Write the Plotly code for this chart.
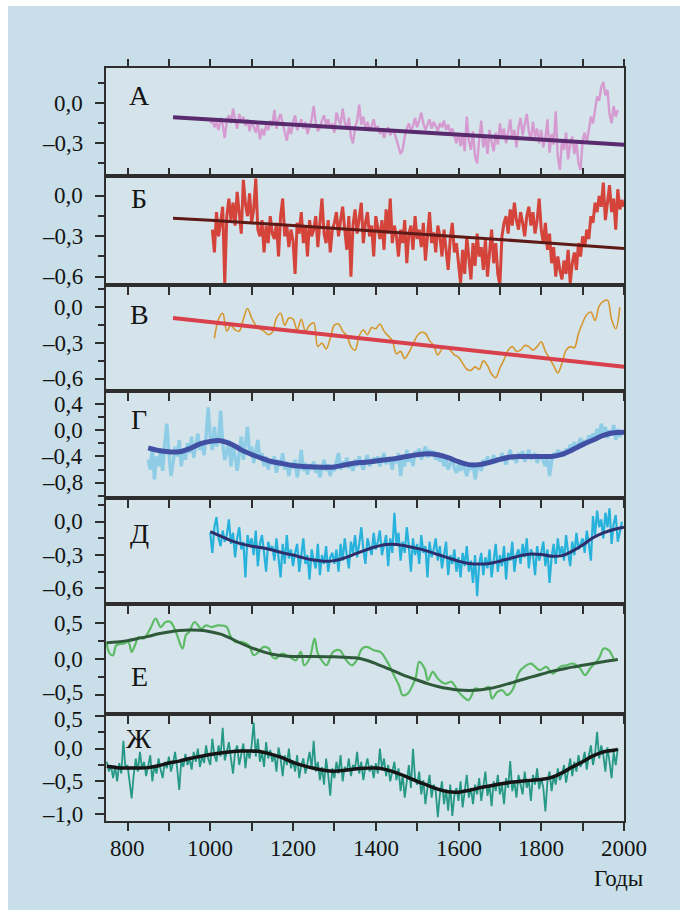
import plotly.graph_objects as go

# ---------------- data ----------------
# Panel А (pink series + linear trend)
A_START = 1000
A_VALS = [-0.15,-0.12,-0.18,-0.14,-0.20,-0.11,-0.16,-0.26,-0.13,-0.09,
          -0.15,-0.04,-0.12,-0.19,-0.08,-0.14,-0.10,-0.17,-0.12,-0.21,
          -0.13,-0.18,-0.22,-0.15,-0.27,-0.19,-0.24,-0.16,-0.20,-0.13,
          -0.17,-0.05,-0.19,-0.12,-0.08,-0.15,-0.21,-0.28,-0.18,-0.23,
          -0.14,-0.09,-0.20,-0.16,-0.12,-0.19,-0.14,-0.23,-0.17,-0.12,
          -0.02,-0.15,-0.21,-0.18,-0.13,-0.09,-0.16,-0.12,-0.19,-0.15,
          -0.22,-0.07,-0.12,-0.16,-0.04,-0.14,-0.19,-0.11,-0.25,-0.30,
          -0.18,-0.13,-0.01,-0.16,-0.10,-0.19,-0.14,-0.21,-0.17,-0.12,
          -0.20,-0.17,-0.23,-0.19,-0.26,-0.21,-0.18,-0.24,-0.20,-0.22,
          -0.27,-0.33,-0.38,-0.35,-0.25,-0.19,-0.15,-0.21,-0.17,-0.11,
          -0.18,-0.13,-0.07,-0.15,-0.20,-0.16,-0.12,-0.19,-0.14,-0.17,
          -0.21,-0.15,-0.18,-0.13,-0.20,-0.16,-0.22,-0.19,-0.25,-0.30,
          -0.22,-0.32,-0.24,-0.36,-0.10,-0.28,-0.35,-0.21,-0.40,-0.45,
          -0.27,-0.13,-0.33,-0.24,-0.38,-0.20,-0.29,-0.36,-0.22,-0.31,
          -0.15,-0.25,-0.19,-0.30,-0.22,-0.12,-0.27,-0.20,-0.33,-0.18,
          -0.11,-0.24,-0.16,-0.08,-0.21,-0.28,-0.14,-0.25,-0.19,-0.30,
          -0.20,-0.33,-0.26,-0.12,-0.37,-0.23,-0.31,-0.06,-0.40,-0.50,
          -0.28,-0.35,-0.22,-0.42,-0.30,-0.25,-0.38,-0.29,-0.45,-0.50,
          -0.28,-0.22,-0.30,-0.18,-0.10,-0.15,-0.03,0.05,0.02,0.12,
          0.16,0.06,0.10,-0.08,-0.15,-0.02,-0.10,-0.05]
A_TREND_YEARS = [910, 2000]
A_TREND = [-0.105, -0.31]

# Panel Б (red series + trend)
B_START = 1005
B_VALS = [-0.25,-0.42,-0.12,-0.30,-0.20,-0.08,-0.65,-0.15,-0.02,-0.18,
          -0.05,-0.22,0.03,-0.12,-0.28,0.12,-0.06,-0.15,0.02,-0.20,
          -0.10,0.13,-0.25,-0.30,-0.18,-0.42,-0.22,-0.35,-0.15,-0.28,
          -0.32,-0.20,-0.45,-0.15,-0.02,-0.30,-0.22,-0.38,-0.25,-0.33,
          -0.58,-0.20,-0.28,-0.12,-0.35,-0.22,-0.45,-0.18,-0.30,-0.25,
          -0.15,-0.38,-0.22,-0.02,-0.28,-0.35,-0.18,-0.42,-0.25,-0.20,
          -0.12,-0.30,-0.18,-0.08,-0.25,-0.40,-0.15,-0.60,-0.22,-0.10,
          -0.28,-0.18,-0.05,-0.35,-0.20,-0.12,-0.30,-0.22,-0.45,-0.15,
          -0.25,-0.32,-0.18,-0.40,-0.10,-0.28,-0.02,-0.35,-0.22,-0.30,
          -0.45,-0.25,-0.35,-0.18,-0.50,-0.28,-0.22,-0.40,-0.15,-0.32,
          -0.25,-0.38,-0.20,-0.48,-0.30,-0.12,-0.35,-0.27,-0.42,-0.22,
          -0.30,-0.45,-0.25,-0.38,-0.55,-0.32,-0.20,-0.42,-0.35,-0.50,
          -0.65,-0.40,-0.58,-0.30,-0.48,-0.62,-0.35,-0.52,-0.28,-0.45,
          -0.38,-0.55,-0.32,-0.60,-0.42,-0.25,-0.50,-0.35,-0.58,-0.66,
          -0.30,-0.20,-0.15,-0.28,-0.10,-0.22,-0.05,-0.18,-0.25,-0.12,
          -0.20,-0.30,-0.15,-0.08,-0.22,-0.12,-0.28,-0.18,-0.02,-0.25,
          -0.35,-0.20,-0.40,-0.28,-0.50,-0.38,-0.60,-0.45,-0.55,-0.62,
          -0.48,-0.58,-0.40,-0.65,-0.50,-0.42,-0.55,-0.35,-0.45,-0.30,
          -0.38,-0.25,-0.32,-0.15,-0.20,-0.05,-0.12,0.00,-0.08,0.10,
          -0.18,-0.05,0.08,-0.12,-0.02,-0.25,0.05,-0.10,-0.03,-0.08]
B_TREND_YEARS = [910, 1000, 1200, 1400, 1600, 1800, 2000]
B_TREND = [-0.165, -0.18, -0.22, -0.26, -0.30, -0.345, -0.39]

# Panel В (orange series + trend)
V_START = 1010
V_VALS = [-0.26,-0.10,-0.05,-0.20,-0.15,-0.19,-0.20,-0.10,-0.01,-0.09,
          -0.15,-0.18,-0.20,-0.23,-0.21,-0.09,-0.05,-0.15,-0.09,-0.10,
          -0.19,-0.10,-0.20,-0.15,-0.13,-0.33,-0.30,-0.35,-0.26,-0.15,
          -0.14,-0.20,-0.24,-0.33,-0.36,-0.24,-0.19,-0.23,-0.17,-0.18,
          -0.14,-0.20,-0.24,-0.28,-0.39,-0.37,-0.43,-0.38,-0.31,-0.24,
          -0.21,-0.22,-0.28,-0.32,-0.40,-0.35,-0.33,-0.36,-0.40,-0.42,
          -0.47,-0.52,-0.53,-0.50,-0.52,-0.45,-0.49,-0.56,-0.59,-0.51,
          -0.44,-0.36,-0.33,-0.37,-0.36,-0.32,-0.33,-0.36,-0.33,-0.29,
          -0.37,-0.43,-0.49,-0.55,-0.47,-0.36,-0.33,-0.34,-0.22,-0.13,
          -0.06,-0.04,-0.11,0.01,0.05,0.06,-0.10,-0.18,0.00]
V_TREND_YEARS = [910, 2000]
V_TREND = [-0.09, -0.50]

# Panel Г (light-blue series + smooth curve)
G_START = 850
G_VALS = [-0.45,-0.60,-0.25,-0.75,-0.40,-0.55,-0.30,-0.62,-0.20,0.10,
          -0.35,-0.70,-0.50,-0.25,-0.40,-0.15,-0.55,-0.30,-0.45,-0.20,
          -0.35,-0.10,-0.42,-0.25,-0.05,-0.30,-0.18,-0.38,-0.08,0.35,
          -0.10,-0.30,0.05,-0.25,-0.15,0.30,-0.20,-0.45,-0.35,-0.15,
          -0.55,-0.25,-0.40,-0.62,-0.30,-0.10,-0.45,-0.20,0.05,-0.35,
          -0.25,-0.50,-0.30,-0.15,-0.45,-0.35,-0.55,-0.40,-0.60,-0.45,
          -0.52,-0.40,-0.65,-0.45,-0.55,-0.35,-0.60,-0.48,-0.70,-0.50,
          -0.58,-0.45,-0.72,-0.55,-0.30,-0.62,-0.50,-0.68,-0.52,-0.60,
          -0.48,-0.65,-0.55,-0.72,-0.58,-0.45,-0.62,-0.52,-0.70,-0.55,
          -0.62,-0.50,-0.35,-0.60,-0.48,-0.55,-0.42,-0.58,-0.50,-0.62,
          -0.45,-0.55,-0.40,-0.52,-0.60,-0.45,-0.38,-0.55,-0.48,-0.42,
          -0.50,-0.40,-0.55,-0.45,-0.35,-0.52,-0.42,-0.48,-0.60,-0.40,
          -0.50,-0.35,-0.70,-0.45,-0.55,-0.30,-0.48,-0.38,-0.55,-0.32,
          -0.40,-0.28,-0.45,-0.35,-0.25,-0.42,-0.30,-0.38,-0.32,-0.45,
          -0.35,-0.48,-0.40,-0.55,-0.45,-0.60,-0.50,-0.42,-0.58,-0.65,
          -0.52,-0.62,-0.48,-0.58,-0.70,-0.55,-0.60,-0.50,-0.75,-0.58,
          -0.50,-0.62,-0.45,-0.55,-0.40,-0.52,-0.48,-0.38,-0.50,-0.42,
          -0.48,-0.35,-0.45,-0.52,-0.40,-0.30,-0.45,-0.38,-0.50,-0.35,
          -0.42,-0.32,-0.48,-0.38,-0.30,-0.45,-0.40,-0.35,-0.50,-0.42,
          -0.38,-0.45,-0.55,-0.40,-0.70,-0.48,-0.35,-0.42,-0.30,-0.38,
          -0.32,-0.40,-0.28,-0.35,-0.22,-0.30,-0.18,-0.28,-0.20,-0.12,
          -0.25,-0.15,-0.20,-0.08,-0.18,-0.05,-0.12,0.02,-0.10,0.10,
          -0.05,0.05,-0.12,0.00,-0.08,0.08,-0.15,0.02,-0.10,-0.02]
G_SMOOTH_YEARS = [850,875,900,925,950,975,1000,1025,1050,1075,1100,1125,1150,1175,1200,
                  1225,1250,1275,1300,1325,1350,1375,1400,1425,1450,1475,1500,1525,1550,
                  1575,1600,1625,1650,1675,1700,1725,1750,1775,1800,1825,1850,1875,1900,
                  1925,1950,1975,2000]
G_SMOOTH = [-0.27,-0.31,-0.33,-0.33,-0.28,-0.21,-0.17,-0.16,-0.21,-0.30,-0.37,-0.43,-0.48,-0.51,-0.54,
            -0.555,-0.56,-0.565,-0.56,-0.53,-0.50,-0.49,-0.47,-0.45,-0.43,-0.40,-0.375,-0.36,-0.375,
            -0.42,-0.48,-0.525,-0.525,-0.49,-0.445,-0.41,-0.40,-0.40,-0.40,-0.40,-0.37,-0.30,-0.22,
            -0.15,-0.08,-0.04,-0.03]

# Panel Д (cyan series + smooth curve)
D_START = 1000
D_VALS = [-0.10,-0.28,-0.05,0.04,-0.15,-0.22,-0.08,-0.18,-0.12,0.02,
          -0.20,-0.10,-0.32,-0.15,-0.05,-0.25,-0.18,-0.50,-0.12,-0.22,
          -0.15,-0.30,-0.08,-0.40,-0.20,-0.12,-0.28,-0.45,-0.18,-0.25,
          -0.22,-0.35,-0.15,-0.30,-0.50,-0.20,-0.38,-0.12,-0.33,-0.25,
          -0.40,-0.28,-0.20,-0.45,-0.32,-0.15,-0.38,-0.30,-0.52,-0.25,
          -0.35,-0.42,-0.20,-0.48,-0.30,-0.38,-0.22,-0.45,-0.32,-0.28,
          -0.38,-0.25,-0.45,-0.20,-0.35,-0.15,-0.30,-0.42,-0.18,-0.28,
          -0.12,-0.32,-0.20,-0.05,-0.25,-0.38,-0.15,-0.22,-0.30,-0.10,
          -0.25,-0.18,-0.08,-0.30,-0.20,-0.12,-0.40,-0.15,-0.28,0.08,
          -0.20,-0.10,-0.35,-0.18,-0.28,-0.05,-0.22,-0.45,-0.15,-0.30,
          -0.20,-0.38,-0.12,-0.28,-0.22,-0.50,-0.18,-0.32,-0.25,-0.15,
          -0.35,-0.22,-0.42,-0.28,-0.18,-0.48,-0.30,-0.38,-0.25,-0.45,
          -0.32,-0.50,-0.28,-0.40,-0.22,-0.45,-0.35,-0.55,-0.30,-0.67,
          -0.38,-0.28,-0.48,-0.32,-0.42,-0.25,-0.50,-0.35,-0.20,-0.45,
          -0.30,-0.40,-0.22,-0.52,-0.28,-0.35,-0.18,-0.45,-0.30,-0.25,
          -0.38,-0.20,-0.32,-0.15,-0.42,-0.25,-0.30,-0.48,-0.22,-0.35,
          -0.28,-0.18,-0.40,-0.25,-0.55,-0.32,-0.20,-0.38,-0.15,-0.30,
          -0.22,-0.35,-0.12,-0.28,-0.40,-0.18,-0.30,-0.10,-0.25,-0.20,
          -0.15,-0.28,-0.08,-0.20,-0.35,0.05,-0.12,0.10,-0.05,0.02,
          -0.15,0.08,-0.05,0.12,-0.20,-0.02,0.06,-0.18,-0.08,0.00]
D_SMOOTH_YEARS = [1000,1025,1050,1075,1100,1125,1150,1175,1200,1225,1250,1275,1300,1325,1350,
                  1375,1400,1425,1450,1475,1500,1525,1550,1575,1600,1625,1650,1675,1700,1725,
                  1750,1775,1800,1825,1850,1875,1900,1925,1950,1975,2000]
D_SMOOTH = [-0.09,-0.13,-0.17,-0.20,-0.22,-0.235,-0.255,-0.28,-0.30,-0.325,-0.345,-0.355,-0.35,-0.325,-0.29,
            -0.255,-0.225,-0.205,-0.205,-0.22,-0.24,-0.265,-0.295,-0.325,-0.355,-0.375,-0.38,-0.375,-0.355,-0.33,
            -0.305,-0.29,-0.295,-0.31,-0.305,-0.265,-0.21,-0.145,-0.10,-0.07,-0.05]

# Panel Е (green series + smooth curve)
E_YEARS = [749,757,765,773,790,802,810,818,827,839,
           855,868,880,892,904,917,933,941,949,962,
           978,990,1003,1019,1040,1048,1060,1076,1093,1105,
           1117,1129,1142,1150,1158,1174,1191,1207,1219,1227,
           1240,1252,1260,1272,1281,1297,1313,1326,1342,1354,
           1367,1379,1395,1411,1428,1444,1456,1465,1477,1489,
           1497,1505,1518,1526,1538,1550,1567,1583,1600,1612,
           1624,1632,1640,1657,1673,1681,1694,1706,1718,1730,
           1747,1759,1775,1796,1812,1828,1845,1861,1877,1894,
           1906,1918,1939,1951,1963,1971,1975]
E_VALS = [0.242,0.079,0.056,0.195,0.219,0.242,0.102,0.195,0.31,0.288,
          0.428,0.567,0.45,0.52,0.52,0.381,0.149,0.335,0.381,0.52,
          0.428,0.474,0.45,0.474,0.45,0.335,0.242,0.242,0.195,0.056,
          0.102,0.172,0.149,0.033,0.009,0.079,0.033,-0.014,0.102,-0.084,
          0.009,0.288,0.079,-0.037,-0.084,0.102,0.126,0.009,-0.084,-0.014,
          0.149,0.172,0.126,0.102,-0.037,-0.223,-0.363,-0.502,-0.479,-0.363,
          -0.247,-0.037,-0.13,-0.293,-0.177,-0.27,-0.34,-0.316,-0.456,-0.526,
          -0.572,-0.502,-0.409,-0.433,-0.386,-0.549,-0.456,-0.433,-0.502,-0.433,
          -0.177,-0.107,-0.06,-0.153,-0.107,-0.2,-0.107,-0.084,-0.06,-0.13,
          -0.223,-0.13,0.009,0.149,0.126,0.056,0.009]
E_SMOOTH_YEARS = [750,775,800,825,850,875,900,925,950,975,1000,1025,1050,1075,1100,1125,1150,1175,
                  1200,1250,1300,1350,1375,1400,1425,1450,1475,1500,1525,1550,1575,1600,1625,1650,
                  1675,1700,1725,1750,1775,1800,1825,1850,1875,1900,1925,1950,1985]
E_SMOOTH = [0.23,0.24,0.26,0.29,0.32,0.355,0.38,0.40,0.41,0.405,0.385,0.35,0.29,0.22,0.16,0.11,0.07,0.05,
            0.04,0.04,0.035,0.02,-0.01,-0.06,-0.12,-0.18,-0.24,-0.29,-0.34,-0.38,-0.41,-0.43,-0.435,-0.43,
            -0.41,-0.375,-0.335,-0.29,-0.25,-0.21,-0.17,-0.14,-0.11,-0.085,-0.06,-0.035,-0.005]

# Panel Ж (teal series + smooth curve)
Z_START = 750
Z_VALS = [-0.20,-0.35,-0.25,-0.45,-0.28,-0.50,-0.22,-0.38,0.12,-0.30,
          -0.25,-0.55,-0.76,-0.40,-0.15,-0.35,-0.05,-0.30,-0.20,-0.42,
          -0.28,-0.10,-0.50,-0.25,-0.38,-0.15,-0.32,-0.45,-0.20,-0.30,
          -0.12,-0.35,-0.22,-0.05,-0.30,-0.63,-0.18,-0.28,-0.08,-0.25,
          -0.15,-0.32,-0.05,-0.20,0.00,-0.28,-0.12,-0.22,0.05,-0.15,
          -0.25,0.15,-0.10,-0.20,0.05,-0.12,0.32,-0.18,-0.05,0.10,
          -0.15,-0.38,-0.05,0.05,-0.25,-0.10,0.08,-0.30,-0.02,-0.15,
          0.05,0.40,-0.12,0.15,-0.20,-0.05,-0.28,0.10,-0.15,-0.02,
          -0.20,-0.08,-0.35,0.02,-0.15,-0.42,-0.10,-0.25,0.00,-0.30,
          -0.18,-0.35,-0.10,-0.45,-0.25,-0.15,-0.38,-0.22,-0.05,-0.30,
          0.12,-0.35,-0.20,-0.48,-0.28,-0.55,-0.15,-0.40,-0.72,-0.30,
          -0.45,-0.20,-0.38,-0.10,-0.50,-0.28,-0.35,-0.15,-0.42,-0.25,
          -0.30,-0.05,-0.38,-0.20,-0.48,-0.28,-0.15,-0.35,-0.25,-0.45,
          -0.22,-0.38,0.00,-0.30,-0.15,-0.42,-0.25,-0.50,-0.35,-0.20,
          -0.48,-0.30,-0.65,-0.40,-0.75,-0.50,-0.25,-0.60,0.00,-0.45,
          -0.55,-0.35,-0.70,-0.48,-0.85,-0.60,-0.40,-0.75,-0.55,-0.65,
          -1.05,-0.70,-0.50,-0.85,-0.62,-0.95,-0.55,-1.03,-0.72,-0.60,
          -0.80,-0.50,-0.90,-0.65,-0.40,-0.75,-0.60,-0.85,-0.55,-0.70,
          -0.45,-0.80,-0.60,-0.35,-0.72,-0.55,-0.88,-0.50,-0.65,-0.40,
          -0.70,-0.55,-0.85,-0.45,-0.60,-0.19,-0.65,-0.50,-0.75,-0.40,
          -0.55,-0.70,-0.35,-0.60,-0.48,-0.80,-0.40,-0.55,-0.30,-0.62,
          -0.45,-0.60,-0.96,-0.50,-0.35,-0.65,-0.42,-0.55,-0.30,-0.48,
          -0.40,-0.25,-0.52,-0.30,-0.15,-0.42,-0.20,-0.35,-0.10,-0.28,
          -0.20,-0.05,-0.32,-0.10,0.05,-0.25,-0.08,0.26,-0.15,0.05,
          -0.10,-0.35,0.02,-0.20,-0.45,-0.05,-0.25,0.00]
Z_SMOOTH_YEARS = [750,775,800,825,850,875,900,925,950,975,1000,1025,1050,1075,1100,1125,1150,1175,
                  1200,1225,1250,1275,1300,1325,1350,1375,1400,1425,1450,1475,1500,1525,1550,1575,
                  1600,1625,1650,1675,1700,1725,1750,1775,1800,1825,1850,1875,1900,1925,1950,1975,1985]
Z_SMOOTH = [-0.27,-0.29,-0.295,-0.295,-0.29,-0.26,-0.22,-0.19,-0.15,-0.12,-0.09,-0.065,-0.045,-0.035,-0.035,-0.05,-0.09,-0.14,
            -0.21,-0.26,-0.30,-0.33,-0.345,-0.33,-0.31,-0.30,-0.295,-0.32,-0.37,-0.43,-0.50,-0.56,-0.62,-0.66,
            -0.665,-0.64,-0.60,-0.57,-0.54,-0.515,-0.50,-0.485,-0.47,-0.44,-0.37,-0.28,-0.20,-0.11,-0.05,-0.025,-0.01]

LETTERS = ["А", "Б", "В", "Г", "Д", "Е", "Ж"]
X_TICKS = list(range(800, 2001, 100))
X_LABEL_YEARS = [800, 1000, 1200, 1400, 1600, 1800, 2000]


def years_from(start, vals, step=5):
    return list(range(start, start + step * len(vals), step))


# ---------------- styling ----------------
OUTER = "#c8dfe9"
INNER = "#d5e3eb"
AXC = "#2e2e2e"
TXT = "#141414"
FONT = "Liberation Serif"
TICK_FONT = dict(family=FONT, size=23, color=TXT)

domains = [(0.857, 1.0), (0.7118, 0.857), (0.571, 0.7118), (0.429, 0.571),
           (0.288, 0.429), (0.142, 0.288), (0.0, 0.142)]
yranges = [(-0.543, 0.265), (-0.662, 0.151), (-0.703, 0.187), (-1.034, 0.598),
           (-0.741, 0.213), (-0.766, 0.77), (-1.107, 0.53)]
majors = [[0.0, -0.3], [0.0, -0.3, -0.6], [0.0, -0.3, -0.6], [0.4, 0.0, -0.4, -0.8],
          [0.0, -0.3, -0.6], [0.5, 0.0, -0.5], [0.5, 0.0, -0.5, -1.0]]
minors = [[0.15, -0.15, -0.45], [-0.15, -0.45], [0.15, -0.15, -0.45], [0.2, -0.2, -0.6, -1.0],
          [0.15, -0.15, -0.45], [0.25, -0.25], [0.25, -0.25, -0.75]]
letter_y = [0.74, 0.79, 0.72, 0.73, 0.67, 0.34, 0.77]


def fmt(v):
    s = f"{abs(v):.1f}".replace(".", ",")
    return ("\u2013" + s) if v < 0 else s


def label_shift(panel, v):
    # the lowest label of Е and the highest label of Ж sit next to each other
    if panel == 5 and v == majors[5][-1]:
        return 3
    if panel == 6 and v == majors[6][0]:
        return -3
    return 0


series = [
    (years_from(A_START, A_VALS), A_VALS, dict(color="#d59bd0", width=2.4), 1.0,
     A_TREND_YEARS, A_TREND, dict(color="#5a2a6e", width=4)),
    (years_from(B_START, B_VALS), B_VALS, dict(color="#d4443a", width=3.0), 1.0,
     B_TREND_YEARS, B_TREND, dict(color="#5e1a16", width=3)),
    (years_from(V_START, V_VALS, 10), V_VALS, dict(color="#d6972e", width=1.6, shape="spline"), 1.0,
     V_TREND_YEARS, V_TREND, dict(color="#d8404b", width=4)),
    (years_from(G_START, G_VALS), G_VALS, dict(color="#62c0e6", width=3.4), 0.6,
     G_SMOOTH_YEARS, G_SMOOTH, dict(color="#4150a3", width=5, shape="spline")),
    (years_from(D_START, D_VALS), D_VALS, dict(color="#27b2dc", width=2.2), 1.0,
     D_SMOOTH_YEARS, D_SMOOTH, dict(color="#2d2f6c", width=3, shape="spline")),
    (E_YEARS, E_VALS, dict(color="#5dbb66", width=2.2, shape="spline"), 1.0,
     E_SMOOTH_YEARS, E_SMOOTH, dict(color="#2e5a3a", width=3, shape="spline")),
    (years_from(Z_START, Z_VALS), Z_VALS, dict(color="#269886", width=1.8), 1.0,
     Z_SMOOTH_YEARS, Z_SMOOTH, dict(color="#151515", width=3.5, shape="spline")),
]

fig = go.Figure()
for i, (nx, ny, nline, nop, sx, sy, sline) in enumerate(series):
    xa = "x" if i == 0 else f"x{i+1}"
    ya = "y" if i == 0 else f"y{i+1}"
    fig.add_trace(go.Scatter(x=nx, y=ny, mode="lines", line=nline, opacity=nop,
                             xaxis=xa, yaxis=ya, hoverinfo="skip"))
    fig.add_trace(go.Scatter(x=sx, y=sy, mode="lines", line=sline,
                             xaxis=xa, yaxis=ya, hoverinfo="skip"))

# invisible trace for the top tick axis of panel А
fig.add_trace(go.Scatter(x=[], y=[], xaxis="x8", yaxis="y", hoverinfo="skip"))

layout = dict(
    width=680, height=910,
    margin=dict(l=106, r=56, t=68, b=89, pad=0),
    paper_bgcolor=OUTER, plot_bgcolor=INNER,
    showlegend=False,
    font=dict(family=FONT, size=23, color=TXT),
)

annotations = []
for i in range(7):
    xk = "xaxis" if i == 0 else f"xaxis{i+1}"
    yk = "yaxis" if i == 0 else f"yaxis{i+1}"
    xa = "x" if i == 0 else f"x{i+1}"
    ya = "y" if i == 0 else f"y{i+1}"
    layout[xk] = dict(
        range=[748, 2000], domain=[0, 1], anchor=ya,
        tickmode="array", tickvals=X_TICKS,
        ticks="inside" if i == 0 else "outside", ticklen=8, tickwidth=2, tickcolor=AXC,
        showticklabels=False,
        showline=True, linecolor=AXC, linewidth=2, mirror=True,
        showgrid=False, zeroline=False,
    )
    if i > 0:
        layout[xk]["matches"] = "x"
    layout[yk] = dict(
        range=list(yranges[i]), domain=list(domains[i]), anchor=xa,
        tickmode="array", tickvals=majors[i],
        ticks="outside", ticklen=9, tickwidth=2, tickcolor=AXC,
        minor=dict(tickmode="array", tickvals=minors[i], ticks="outside", ticklen=6,
                   tickwidth=2, tickcolor=AXC, showgrid=False),
        showticklabels=False,
        showline=True, linecolor=AXC, linewidth=2, mirror=True,
        showgrid=False, zeroline=False,
    )
    # y tick labels (placed at the tick values of this panel's axis)
    for v in majors[i]:
        annotations.append(dict(text=fmt(v), x=-0.04, xref="paper", y=v, yref=ya,
                                yshift=label_shift(i, v),
                                showarrow=False, xanchor="right", yanchor="middle",
                                font=TICK_FONT))
    # panel letter
    annotations.append(dict(text=LETTERS[i], x=0.064, y=letter_y[i],
                            xref=f"{xa} domain", yref=f"{ya} domain",
                            showarrow=False, xanchor="center", yanchor="middle",
                            font=dict(family=FONT, size=28, color=TXT)))

# x tick labels under the bottom panel
for yr in X_LABEL_YEARS:
    annotations.append(dict(text=str(yr), x=yr, xref="x7", y=-0.036, yref="paper",
                            showarrow=False, xanchor="center", yanchor="middle",
                            font=TICK_FONT))

layout["xaxis8"] = dict(
    range=[748, 2000], overlaying="x", side="top", anchor="y",
    tickmode="array", tickvals=X_TICKS, ticks="outside", ticklen=8, tickwidth=2,
    tickcolor=AXC, showticklabels=False, showline=False, showgrid=False, zeroline=False,
)

annotations.append(dict(text="Годы", x=0.99, y=-0.076, xref="paper", yref="paper",
                        showarrow=False, xanchor="center", yanchor="middle",
                        font=TICK_FONT))
layout["annotations"] = annotations

layout["shapes"] = [
    dict(type="rect", xref="paper", yref="paper", x0=-0.21, x1=-0.1892, y0=-0.13, y1=1.1,
         fillcolor="white", line=dict(width=0), layer="above"),
    dict(type="rect", xref="paper", yref="paper", x0=-0.21, x1=1.12, y0=1.0823, y1=1.1,
         fillcolor="white", line=dict(width=0), layer="above"),
]

fig.update_layout(**layout)
fig.write_html("out.html")
